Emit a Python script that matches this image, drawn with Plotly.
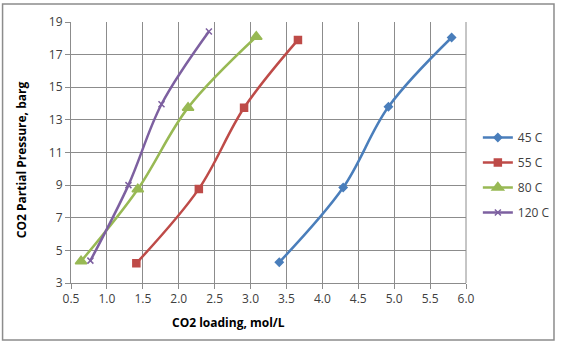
import plotly.graph_objects as go

x45 = [3.40, 4.29, 4.92, 5.80]
y45 = [4.27, 8.85, 13.8, 18.05]
x55 = [1.41, 2.28, 2.91, 3.66]
y55 = [4.21, 8.77, 13.74, 17.9]
x80 = [0.64, 1.43, 2.13, 3.08]
y80 = [4.33, 8.75, 13.75, 18.1]
x120 = [0.77, 1.30, 1.76, 2.42]
y120 = [4.37, 9.0, 13.96, 18.42]
names = ["45 C", "55 C", "80 C", "120 C"]
x_ticks = [0.5, 1.0, 1.5, 2.0, 2.5, 3.0, 3.5, 4.0, 4.5, 5.0, 5.5, 6.0]
y_ticks = [3, 5, 7, 9, 11, 13, 15, 17, 19]
x_title = "CO2 loading, mol/L"
y_title = "CO2 Partial Pressure, barg"

series = [
    (x45, y45, "#4A7EBB", "diamond", 6),
    (x55, y55, "#BE4B48", "square", 7),
    (x80, y80, "#98B954", "triangle-up", 10),
    (x120, y120, "#7D60A0", "x-thin", 6),
]

fig = go.Figure()
for (xs, ys, c, sym, sz), n in zip(series, names):
    fig.add_trace(go.Scatter(
        x=xs, y=ys, name=n, legendgroup=n, mode="lines+markers",
        line=dict(color=c, width=2.5, shape="spline", smoothing=1.0),
        marker=dict(symbol=sym, size=sz, color=c, line=dict(color=c, width=1.5)),
    ))

font = "Open Sans, Liberation Sans, sans-serif"
fig.update_layout(
    width=567, height=342,
    margin=dict(l=71, r=92, t=22, b=59),
    paper_bgcolor="white", plot_bgcolor="white",
    font=dict(family=font, size=12, color="#404040"),
    showlegend=True,
    legend=dict(x=1.03, y=0.613, xanchor="left", yanchor="top",
                font=dict(size=12, color="#404040"), tracegroupgap=6,
                itemwidth=30, bgcolor="rgba(0,0,0,0)"),
    xaxis=dict(range=[0.5, 6.0], tickvals=x_ticks, ticktext=[f"{v:.1f}" for v in x_ticks],
               showgrid=True, gridcolor="#8c8c8c", gridwidth=1,
               showline=True, linecolor="#8c8c8c", mirror=False,
               ticks="outside", ticklen=5, tickcolor="#8c8c8c", zeroline=False),
    yaxis=dict(range=[3, 19], tickvals=y_ticks,
               showgrid=True, gridcolor="#8c8c8c", gridwidth=1,
               showline=True, linecolor="#8c8c8c",
               ticks="outside", ticklen=5, tickcolor="#8c8c8c", zeroline=False),
    annotations=[
        dict(text=f"<b>{x_title}</b>", xref="paper", yref="paper",
             x=(232 - 71) / 404, y=(283 - 322) / 261, showarrow=False,
             xanchor="center", yanchor="middle", font=dict(size=12, color="#000000")),
        dict(text=f"<b>{y_title}</b>", xref="paper", yref="paper",
             x=(20 - 71) / 404, y=(283 - 160) / 261, showarrow=False, textangle=-90,
             xanchor="center", yanchor="middle", font=dict(size=12, color="#000000")),
    ],
    shapes=[dict(type="rect", xref="paper", yref="paper",
                 x0=(1 - 71) / 404, x1=(565 - 71) / 404,
                 y0=(283 - 340) / 261, y1=(283 - 4) / 261,
                 line=dict(color="#8c8c8c", width=1.5), layer="below"),
            dict(type="line", xref="paper", yref="paper", x0=1, x1=1, y0=0, y1=1,
                 line=dict(color="#8c8c8c", width=1))],
)

fig.write_html("out.html")
